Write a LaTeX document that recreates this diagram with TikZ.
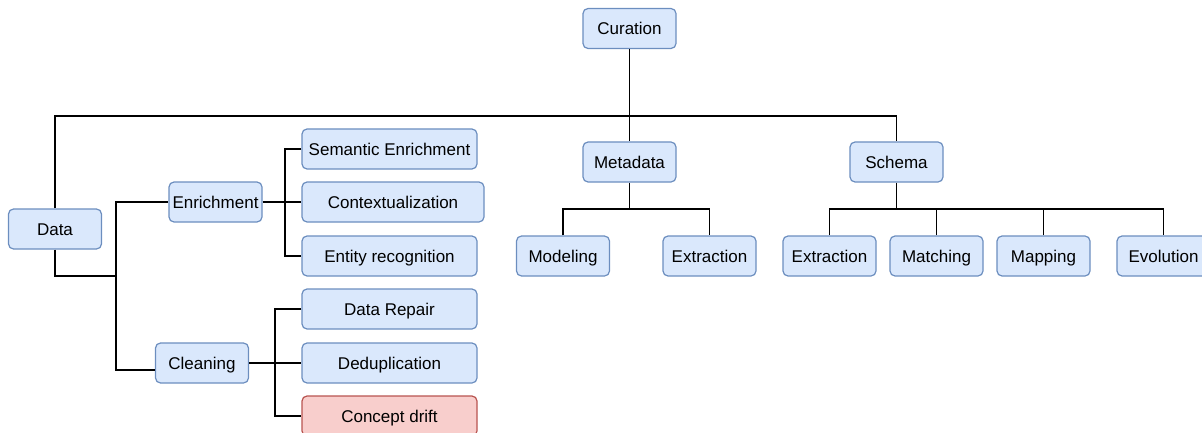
\documentclass[tikz,border=0pt]{standalone}
\usepackage{fontspec}
\setmainfont{Liberation Sans}
\usepackage{tikz}
\usetikzlibrary{calc,positioning}
\definecolor{boxfill}{HTML}{DAE8FC}
\definecolor{boxline}{HTML}{6C8EBF}
\definecolor{alertfill}{HTML}{F8CECC}
\definecolor{alertline}{HTML}{B85450}

\begin{document}
\begin{tikzpicture}[x=1pt, y=-1pt,
        topic/.style={rectangle, draw=boxline, fill=boxfill, rounded corners=5pt, line width=1.2pt,
        text centered, text=black, minimum width=93pt, minimum height=40pt, inner sep=0pt,
        text height=13.5pt, text depth=1pt, font=\fontsize{17}{20}\selectfont},
        widetopic/.style={topic, minimum width=175pt},
        alerttopic/.style={widetopic, draw=alertline, fill=alertfill},
        link/.style={draw=black, line width=1.3pt}]
        \useasboundingbox (0,0) rectangle (1202,433);

        % top level
        \node [topic] (curation) at (629.5,28.5) {Curation};
        \node [topic] (metadata) at (629.5,162) {Metadata};
        \node [topic] (schema) at (896.5,162) {Schema};
        \node [topic] (data) at (55,229) {Data};

        % data branch
        \node [topic] (enrich) at (215.5,202) {Enrichment};
        \node [topic] (clean) at (202,363) {Cleaning};
        \node [widetopic] (semantic) at (389.5,149) {Semantic Enrichment};
        \node [widetopic, minimum width=182pt] (context) at (393,202) {Contextualization};
        \node [widetopic] (entity) at (389.5,256) {Entity recognition};
        \node [widetopic] (repair) at (389.5,309) {Data Repair};
        \node [widetopic] (dedup) at (389.5,363) {Deduplication};
        \node [alerttopic] (drift) at (389.5,416) {Concept drift};

        % metadata and schema branches
        \node [topic] (modeling) at (563,256) {Modeling};
        \node [topic] (mextract) at (709.5,256) {Extraction};
        \node [topic] (sextract) at (829.5,256) {Extraction};
        \node [topic] (matching) at (936.5,256) {Matching};
        \node [topic] (mapping) at (1043.5,256) {Mapping};
        \node [topic] (evolution) at (1163.5,256) {Evolution};

        \coordinate (hub) at (629.5,116);
        \coordinate (dsplit) at (116,276);
        \coordinate (ejoint) at (285,202);
        \coordinate (cjoint) at (275,363);
        \coordinate (mjoint) at (629.5,209);
        \coordinate (sjoint) at (896.5,209);

        \draw [link] (curation) -- (metadata);
        \draw [link] (data.north) |- (hub) -| (schema.north);
        \draw [link] (data.south) |- (dsplit) |- (enrich.west);
        \draw [link] (dsplit) |- ([yshift=-7pt]clean.west);
        \draw [link] (enrich.east) -- (context.west);
        \draw [link] (semantic.west) -| (ejoint) |- (entity.west);
        \draw [link] (clean.east) -- (dedup.west);
        \draw [link] (repair.west) -| (cjoint) |- (drift.west);
        \draw [link] (metadata.south) -- (mjoint);
        \draw [link] (modeling.north) |- (mjoint) -| (mextract.north);
        \draw [link] (schema.south) -- (sjoint);
        \draw [link] (sextract.north) |- (sjoint) -| (evolution.north);
        \foreach \n in {matching, mapping}
            \draw [link] (\n.north) -- (\n.north |- sjoint);
    \end{tikzpicture}
\end{document}
